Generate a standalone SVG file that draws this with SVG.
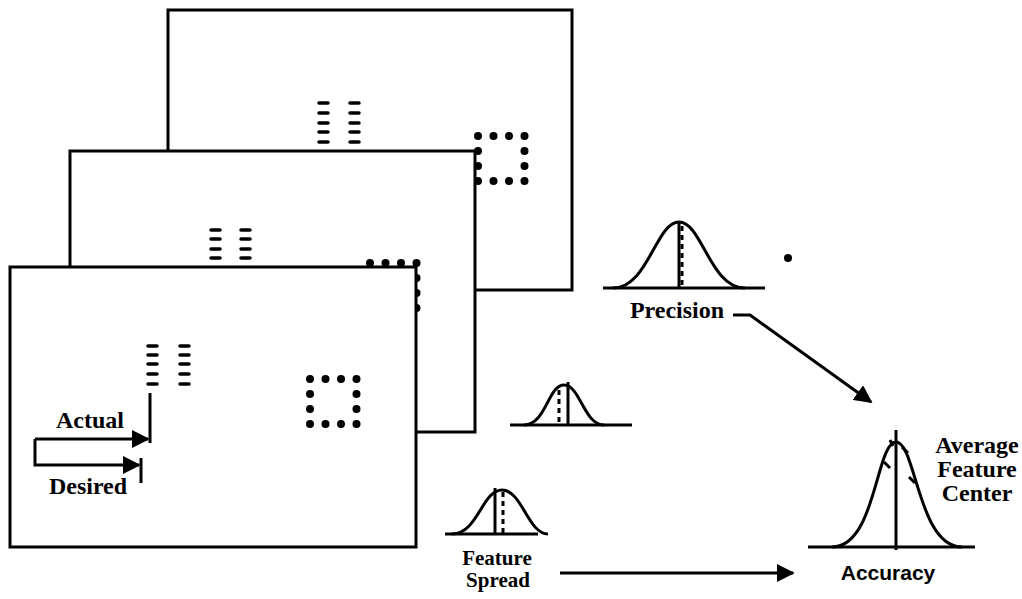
<svg xmlns="http://www.w3.org/2000/svg" width="1022" height="599" viewBox="0 0 1022 599">
<defs>
<style>
.frame{fill:#fff;stroke:#000;stroke-width:3}
.dash{stroke:#000;stroke-width:3.5;stroke-linecap:round}
.ln{fill:none;stroke:#000;stroke-width:3}
.dot{fill:#000}
.ser{font-family:"Liberation Serif","Times New Roman",serif;font-weight:bold;fill:#000}
.sans{font-family:"Liberation Sans",Arial,sans-serif;font-weight:bold;fill:#000}
.dotted{fill:none;stroke:#000;stroke-width:3;stroke-dasharray:5 4}
</style>
<marker id="ah" viewBox="0 0 10 10" refX="9" refY="5" markerWidth="6" markerHeight="6" orient="auto" markerUnits="strokeWidth">
<path d="M0,0 L10,5 L0,10 z" fill="#000"/>
</marker>
<g id="dotsq">
<circle class="dot" cx="0" cy="0" r="4"/><circle class="dot" cx="15.5" cy="0" r="4"/><circle class="dot" cx="31" cy="0" r="4"/><circle class="dot" cx="46.5" cy="0" r="4"/>
<circle class="dot" cx="0" cy="15" r="4"/><circle class="dot" cx="46.5" cy="15" r="4"/>
<circle class="dot" cx="0" cy="30" r="4"/><circle class="dot" cx="46.5" cy="30" r="4"/>
<circle class="dot" cx="0" cy="45" r="4"/><circle class="dot" cx="15.5" cy="45" r="4"/><circle class="dot" cx="31" cy="45" r="4"/><circle class="dot" cx="46.5" cy="45" r="4"/>
</g>
</defs>
<rect width="1022" height="599" fill="#fff"/>

<g id="frame-back">
<rect class="frame" x="168" y="10" width="404" height="280"/>
<g class="dash">
<line x1="319" y1="103" x2="328" y2="103"/><line x1="319" y1="113" x2="328" y2="113"/><line x1="319" y1="123" x2="328" y2="123"/><line x1="319" y1="132" x2="328" y2="132"/><line x1="319" y1="142" x2="328" y2="142"/>
<line x1="350" y1="103" x2="359" y2="103"/><line x1="350" y1="113" x2="359" y2="113"/><line x1="350" y1="123" x2="359" y2="123"/><line x1="350" y1="132" x2="359" y2="132"/><line x1="350" y1="142" x2="359" y2="142"/>
</g>
<use href="#dotsq" x="478" y="136"/>
</g>

<g id="frame-middle">
<rect class="frame" x="70" y="151" width="405" height="281"/>
<g class="dash">
<line x1="211" y1="230" x2="220" y2="230"/><line x1="211" y1="239" x2="220" y2="239"/><line x1="211" y1="249" x2="220" y2="249"/><line x1="211" y1="258" x2="220" y2="258"/>
<line x1="241" y1="230" x2="250" y2="230"/><line x1="241" y1="239" x2="250" y2="239"/><line x1="241" y1="249" x2="250" y2="249"/><line x1="241" y1="258" x2="250" y2="258"/>
</g>
<use href="#dotsq" x="370" y="263"/>
</g>

<g id="frame-front">
<rect class="frame" x="10" y="267" width="406" height="280"/>
<g class="dash">
<line x1="148" y1="346" x2="157" y2="346"/><line x1="148" y1="355" x2="157" y2="355"/><line x1="148" y1="364" x2="157" y2="364"/><line x1="148" y1="374" x2="157" y2="374"/><line x1="148" y1="384" x2="157" y2="384"/>
<line x1="180" y1="346" x2="189" y2="346"/><line x1="180" y1="355" x2="189" y2="355"/><line x1="180" y1="364" x2="189" y2="364"/><line x1="180" y1="374" x2="189" y2="374"/><line x1="180" y1="384" x2="189" y2="384"/>
</g>
<use href="#dotsq" x="310" y="379"/>
<line class="ln" x1="150" y1="393" x2="150" y2="443"/>
<line class="ln" x1="141" y1="458" x2="141" y2="483" stroke-width="2.5"/>
<path class="ln" d="M35,439 L35,465 L139,465" marker-end="url(#ah)"/>
<path class="ln" d="M35,439 L148,439" marker-end="url(#ah)"/>
<text class="ser" x="90" y="428" font-size="24" text-anchor="middle">Actual</text>
<text class="ser" x="88" y="494" font-size="24" text-anchor="middle">Desired</text>
</g>

<g id="precision">
<line class="ln" x1="603" y1="288" x2="765" y2="288"/>
<path class="ln" d="M613,288 C648,288 656,222 679,222 C702,222 710,288 745,288"/>
<line class="ln" x1="679" y1="221" x2="679" y2="288"/>
<line class="dotted" x1="682" y1="226" x2="682" y2="288" stroke-width="2" stroke-dasharray="3 4"/>
<text class="ser" x="677" y="318" font-size="24" text-anchor="middle">Precision</text>
</g>

<circle id="dot-point" class="dot" cx="788" cy="258" r="4"/>

<g id="spread-small">
<line class="ln" x1="510" y1="425" x2="632" y2="425"/>
<path class="ln" d="M524,425 C546,425 548,385 564,385 C580,385 584,425 604,425"/>
<line class="ln" x1="568" y1="382" x2="568" y2="425"/>
<line class="dotted" x1="559" y1="390" x2="559" y2="425"/>
</g>

<g id="feature-spread">
<line class="ln" x1="445" y1="534" x2="538" y2="534"/>
<path class="ln" d="M452,534 C478,534 482,490 502,490 C522,490 528,534 548,534"/>
<line class="ln" x1="495" y1="488" x2="495" y2="534"/>
<line class="dotted" x1="503" y1="492" x2="503" y2="534"/>
<text class="ser" x="497" y="565" font-size="21" text-anchor="middle">Feature</text>
<text class="ser" x="498" y="587" font-size="21" text-anchor="middle">Spread</text>
</g>

<g id="accuracy">
<line class="ln" x1="808" y1="547" x2="975" y2="547"/>
<path class="ln" d="M832,547 C876,547 876,442 896,442 C916,442 918,547 962,547"/>
<line class="ln" x1="896" y1="430" x2="896" y2="550"/>
<g class="ln" stroke-width="2.5">
<line x1="884" y1="462" x2="890" y2="468"/><line x1="890" y1="440" x2="893" y2="446"/><line x1="902" y1="447" x2="908" y2="453"/><line x1="909" y1="477" x2="915" y2="483"/>
</g>
<text class="sans" x="888" y="580" font-size="21" text-anchor="middle">Accuracy</text>
<text class="ser" x="977" y="453" font-size="24" text-anchor="middle">Average</text>
<text class="ser" x="977" y="477" font-size="24" text-anchor="middle">Feature</text>
<text class="ser" x="977" y="501" font-size="24" text-anchor="middle">Center</text>
</g>

<g id="connectors">
<path class="ln" d="M733,315 L750,315 L871,402" marker-end="url(#ah)"/>
<line class="ln" x1="560" y1="573" x2="793" y2="573" marker-end="url(#ah)"/>
</g>
</svg>
